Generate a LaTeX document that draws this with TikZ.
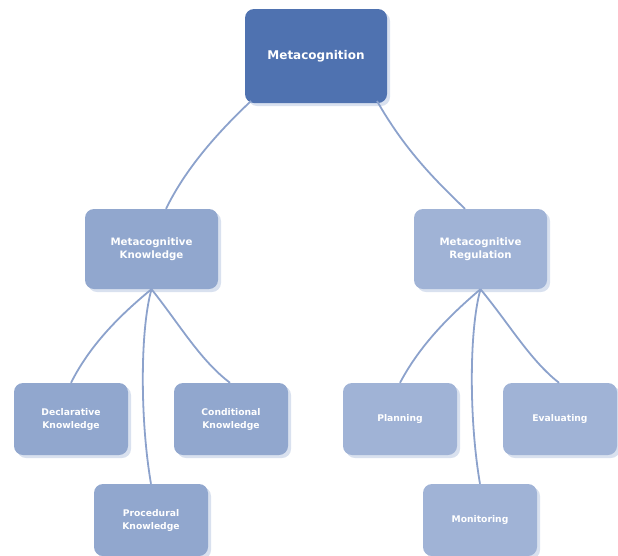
\documentclass[tikz,border=0pt]{standalone}
\usepackage{fontspec}
\setmainfont{DejaVu Sans}
\usetikzlibrary{shadows}
\definecolor{topblue}{HTML}{4F72B0}
\definecolor{kblue}{HTML}{91A7CE}
\definecolor{rblue}{HTML}{A0B3D6}
\definecolor{edgeblue}{HTML}{8CA2CC}
\definecolor{shadowblue}{HTML}{D9E1EF}
\tikzset{
  box/.style={rounded corners=9pt, text=white, font=\bfseries, align=center, inner sep=0pt,
    drop shadow={shadow xshift=3pt, shadow yshift=-3pt, fill=shadowblue, opacity=1}},
  topbox/.style={box, fill=topblue, minimum width=142pt, minimum height=94pt, font=\bfseries\fontsize{12}{14}\selectfont},
  midbox/.style={box, minimum width=133pt, minimum height=80pt, font=\bfseries\fontsize{10.2}{13.5}\selectfont},
  leafbox/.style={box, minimum width=114pt, minimum height=72pt, font=\bfseries\fontsize{9.2}{13}\selectfont},
  conn/.style={draw=edgeblue, line width=1.8pt}
}
\begin{document}
\begin{tikzpicture}[x=1pt,y=1pt]
\useasboundingbox (0,0) rectangle (618,-555);
\node[topbox] (meta) at (316,-56) {Metacognition};
\node[midbox, fill=kblue] (mk) at (151.5,-249) {Metacognitive\\Knowledge};
\node[midbox, fill=rblue] (mr) at (480.5,-249) {Metacognitive\\Regulation};
\node[leafbox, fill=kblue] (decl) at (71,-419) {Declarative\\Knowledge};
\node[leafbox, fill=kblue] (cond) at (231,-419) {Conditional\\Knowledge};
\node[leafbox, fill=kblue] (proc) at (151,-520) {Procedural\\Knowledge};
\node[leafbox, fill=rblue] (plan) at (400,-419) {Planning};
\node[leafbox, fill=rblue] (eval) at (560,-419) {Evaluating};
\node[leafbox, fill=rblue] (moni) at (480,-520) {Monitoring};
\coordinate (m1) at (251,-101);
\coordinate (m2) at (377,-101);
\draw[conn] (m1) .. controls (215,-135) and (185,-170) .. (mk.north -| 166,0);
\draw[conn] (m2) .. controls (405,-150) and (435,-180) .. (mr.north -| 465,0);
\draw[conn] (mk.south) .. controls (120,-315) and (90,-345) .. (decl.north);
\draw[conn] (mk.south) .. controls (180,-325) and (200,-360) .. (cond.north -| 230,0);
\draw[conn] (mk.south) .. controls (140,-330) and (140,-420) .. (proc.north);
\draw[conn] (mr.south) .. controls (450,-315) and (420,-345) .. (plan.north);
\draw[conn] (mr.south) .. controls (510,-325) and (530,-360) .. (eval.north -| 559,0);
\draw[conn] (mr.south) .. controls (469,-330) and (469,-420) .. (moni.north);
\end{tikzpicture}
\end{document}
